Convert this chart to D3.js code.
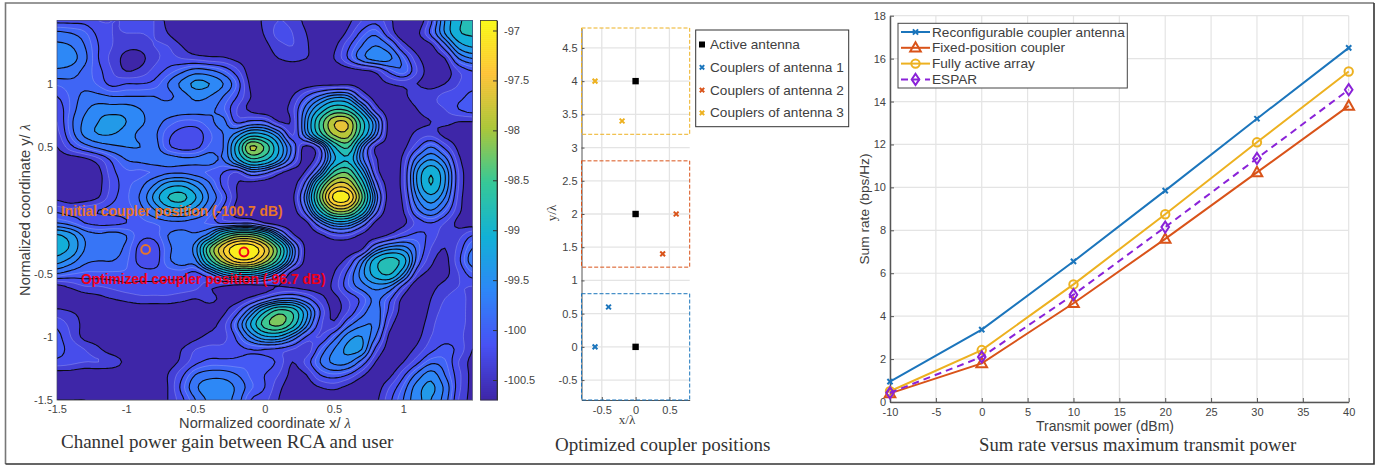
<!DOCTYPE html>
<html>
<head>
<meta charset="utf-8">
<script src="https://cdn.jsdelivr.net/npm/d3@7"></script>
<style>
  html, body { margin: 0; padding: 0; background: #fff; }
  text { font-family: "Liberation Sans", Arial, sans-serif; fill: #404040; }
  .cap { font-family: "Liberation Serif", serif; fill: #333; }
  .axis text { font-size: 11px; fill: #444; }
</style>
</head>
<body>
<div id="chart"></div>
<script>
// channel gain, in 0.1 dB above -101 dB
// rows go from y/lambda = 1.5 down to -1.5, columns from x/lambda = -1.5 to 1.5
const gainRows = [
  [8,8,8,7,7,7,7,7,5,4,4,4,4,4,4,6,7,6.5,5,4,4,5,7,8,6,4,4,8,15,20,21],
  [11.5,11,10,8,7,7,7,7,5.5,4,4,4,4,4,4.2,5.7,7.5,7,5.5,4,4,6,9,10.5,7,4,5,9,15,20,21],
  [13.5,13,11,8.5,7,6,6,7,7,5.5,4,4,4,4,4,5,6.5,7,5.8,4,5,8,11,13,11,6.5,4.5,5,10,16,18],
  [14.5,14,11.5,8.5,6.5,5,5,6.5,7.5,7,6.5,6,5.8,5,4.5,4.5,5.5,6,5.5,4.8,5.5,8.5,12,14,13.5,10,6,4.5,5.5,11,13],
  [12.5,12,10.5,9,7,5.5,6,7.5,9,10.5,12,11.5,10,7.5,4.5,4,4,4,4,4,4,4.5,5,6,9,10.5,7,4.5,4.5,7,8.5],
  [10,10.5,10.5,9.5,8,8.5,8.5,9,11,13.5,15.5,15,13,9.5,5,4,4,4,4.5,4.8,4.8,5,4.5,4.5,5.5,6,5.5,4.8,5.5,7,8],
  [8.5,10,11.5,11.5,11,11,11,11,10.5,12,13.5,13,11,8.5,5.5,4,4,5.5,8.5,11.5,14,13.5,7.5,4.5,4,5,6.5,6.5,7.5,8,9],
  [7.5,10,12.5,14,14,14,13,12,12,12,12,11.5,10,7,5,4,4.5,6.5,12,18,23,22,15,7,4,4,5.5,6.5,7,8.5,9.5],
  [7,10.5,13.5,15,15.8,15,13.5,12,10.5,9.5,9.5,10.5,11.5,8,9,8.8,5.6,6,14,24,32,32,22,13,4.5,4,5,5.5,6,5.5,5.5],
  [6.5,10,13.5,15,15,14,12.5,11.5,9,7.8,7.5,9.5,11,14,18.5,17.5,13,6.8,13,22,30,31,21,12,4.5,4.5,6,6.5,5,4.5,4.5],
  [5.5,8,10,11.5,12.5,13,13,12,9,7.8,8,10,11,19,30,26,17.5,10.2,4.8,9,20,24,13,5.5,4.5,5,8,11,8,5,4],
  [4.5,4.5,5,6.5,9,11,11.5,12,12,11.5,11.5,12,11,16.5,22.5,21,15.5,9,4.5,8,17,20,12,6,4,6,12,15,12,6,4],
  [4,4,4,5,8,9.5,9.5,9.9,10.6,10.7,10.2,9.5,8.5,7,10.5,9.4,6.3,4.5,6,13,24,26,17,7,4,6.5,15,20,15,7,4],
  [4,4,4,5,7.5,9.4,10.4,13,16.3,17,14.6,11.4,8,5.5,4.5,4,4,4.5,10,23,33,33,23,10,4.5,6.5,15,20.5,15,7,4],
  [5,4.2,4.5,5.5,8,9.5,11.2,15.5,20.5,21.6,17.7,12.7,9.5,5.5,4,4,4,5,12.6,27,39.5,39.5,27,12.6,4.5,6,13,16.5,13,6.5,4],
  [8,7.5,8,8.5,9,9.3,10.3,12.7,15.6,16.3,14,11,8,5,4,4,4,4.5,10,21,30,30,21,10,4,5.5,10.5,13,10,6,4],
  [11,10,8.5,8,8,8.5,9.3,9.8,10.4,10.5,10,9.5,8,8,8,5.5,4.2,4,5,10.8,15.5,15.5,10.8,5,4,5,7.5,8.5,7,5,4.5],
  [18,16,12.5,11.5,12,11,9,9,11,12,11.5,14.5,23,28,28,23,13.8,6.3,4.4,5,7,7,5,4.5,6,8,9,8,6,6.5,8.5],
  [19,17,13,12,12,10.5,8,7.5,10.5,12,14,26,35,41,41,35,25,12.7,4.8,4.2,4,4,5,11,14,14,10.5,7,5.5,7.5,11],
  [16,14,11.5,11,11,10,8,7.5,10.5,12,12.5,22,31,37,37,31,22,11.4,4.6,4,4.5,6.5,12,19,22,19,10,6,5,8,12],
  [11,10,9.5,9.5,9.5,9.5,9,9,9,9,8,10.7,15.7,18.7,18.7,15.7,10.3,4.5,4,4,5.5,9,14,19,21,15,7,5,5,7,9.5],
  [5,6,7,7,7.5,8,8,8,8,8,7.5,6,5.5,4.5,4.5,5,5.5,5,4.5,4.5,6,9.5,12,14,13,8,4,5,6,7,7],
  [4,4,4.5,5,5.5,6,6.5,6.5,6.5,6,5.5,6,5,4.7,6.2,8.5,10.9,11.3,9.2,6.3,5,7,9,11.5,9,5,4,5.5,7,7.5,6.5],
  [6,5.5,5,4.5,4,4,4,4,4,4,4,4.5,5.1,7.7,13,20,25,23,15.5,8.5,5,7,10,12,8,4.5,4,6,7.5,7.5,6.5],
  [8,6.5,5,4,4,4,4,4,4,4,4,4.8,6.4,10.7,17.7,25,27.5,22.5,14,7.5,6,10,12.5,12.5,6.5,4,4.5,6.5,8,7.5,6.5],
  [9,7,5,4.5,4,4,4,4,4,4,5,6,6.5,9,13.3,17,17,13,8.4,7,10,14,15,11,5,4,5,7,8,7.5,6],
  [9,8,7,5.8,4.5,4,4,4,4,5.5,7,7.5,7.5,8,8.5,8.5,8,7,6,9.5,13,15.5,15,8,4.5,4.5,6,8,9,8,5.5],
  [8,7.5,7,7,6.5,5,4,4,4.5,6,8,9,9,9,9.5,9.5,8,5.5,7.5,11,13.5,13.5,10,5.5,4,5.5,8,10.5,10,7,5],
  [4.5,4.5,4,4,4,4,4,4,5.5,8,11,12,12,11,9.5,8.5,7,5,5.5,8.5,9.5,8.5,6,4.2,5,8,11.5,14,11,7.5,5],
  [4,4,4,4,4,4,4,4,5.5,9,12.5,14.5,14.5,12.5,10,8.5,6,4.5,4.5,5.5,6,5,4,4.5,7,10,14,15.5,12.5,7.5,5],
  [5.5,5.5,5.5,5,5,5,5,4.5,5.5,8,11,13.5,14,12,8.5,7.5,5.5,4.3,4,4,4,4,4,5,8,11,14.5,15,12,7,5]
];
const blackLevels = [5.5,8.5,11,13,15,17.5,20.5,23.5,26.5,29.5,32.5,35.5,38.5];
const whiteLevels = [7,9.75];
const gainTicks = [-100.5,-100,-99.5,-99,-98.5,-98,-97.5,-97];
const fieldTicks = [-1.5,-1,-0.5,0,0.5,1];
const initialPos = [-0.86,-0.31];
const optimizedPos = [-0.15,-0.33];

// coupler panel
const activeAntenna = [[0,0],[0,2],[0,4]];
const couplers1 = [[-0.6,0],[-0.4,0.6]];
const couplers2 = [[0.6,2],[0.4,1.4]];
const couplers3 = [[-0.6,4],[-0.2,3.4]];
const regionBands = [[-0.8,0.8],[1.2,2.8],[3.2,4.8]];
const posXTicks = [-0.5,0,0.5];
const posYTicks = [-0.5,0,0.5,1,1.5,2,2.5,3,3.5,4,4.5];
const couplerLegend = ["Active antenna","Couplers of antenna 1","Couplers of antenna 2","Couplers of antenna 3"];

// sum rate panel
const powerDbm = [-10,0,10,20,30,40];
const rateRca = [0.95,3.37,6.55,9.85,13.2,16.5];
const rateFixed = [0.4,1.8,4.6,7.6,10.7,13.8];
const rateActive = [0.5,2.42,5.48,8.75,12.1,15.4];
const rateEspar = [0.43,2.1,5.0,8.15,11.35,14.55];
const rateNames = ["Reconfigurable coupler antenna","Fixed-position coupler","Fully active array","ESPAR"];
const powerTicks = [-10,-5,0,5,10,15,20,25,30,35,40];
const rateTicks = [0,2,4,6,8,10,12,14,16,18];

const BLUE = "#1b75bc", ORANGE = "#d95319", YELLOW = "#edb120", PURPLE = "#8a22d8";

const svg = d3.select("#chart").append("svg")
  .attr("width", 1387).attr("height", 466);

svg.append("rect").attr("width", 1387).attr("height", 466).attr("fill", "#fff");

// outer frame, top and left print lighter than bottom and right
const frame = svg.append("g").attr("fill", "none").attr("stroke-width", 1.6);
frame.append("path").attr("d", "M5.5,464V3H1374").attr("stroke", "#777");
frame.append("path").attr("d", "M1374,3V464H5.5").attr("stroke", "#333");

const parula = d3.scaleLinear()
  .domain([0, 1/7, 2/7, 3/7, 4/7, 5/7, 6/7, 1])
  .range(["#3e26a8","#4852f4","#2e87f7","#12b1d6","#37c897","#abc739","#fec338","#f9fb15"]);
const gainToT = d3.scaleLinear().domain([-100.7, -96.9]).range([0, 1]);
const nToDb = n => -101 + n / 10;
const tickText = d => String(d); // plain hyphen, as the figure prints it

/* ---------- left panel: contour map ---------- */
const fx = d3.scaleLinear().domain([-1.5, 1.5]).range([57, 472.5]);
const fy = d3.scaleLinear().domain([-1.5, 1.5]).range([400, 20.5]);

// refine the read grid so the contour lines come out round
const K = 4;
const rows = gainRows.length, cols = gainRows[0].length;
const fw = (cols - 1) * K + 1, fh = (rows - 1) * K + 1;
function cr(a, b, c, d, t) {
  return 0.5 * (2*b + (c-a)*t + (2*a-5*b+4*c-d)*t*t + (3*b-a-3*c+d)*t*t*t);
}
function at(r, c) {
  return gainRows[Math.max(0, Math.min(rows-1, r))][Math.max(0, Math.min(cols-1, c))];
}
function sample(gy, gx) {
  const r = Math.floor(gy), c = Math.floor(gx), ty = gy - r, tx = gx - c;
  const v = [-1,0,1,2].map(i => cr(at(r+i,c-1), at(r+i,c), at(r+i,c+1), at(r+i,c+2), tx));
  return cr(v[0], v[1], v[2], v[3], ty);
}
const fine = new Float64Array(fw * fh);
for (let j = 0; j < fh; j++) {
  for (let i = 0; i < fw; i++) fine[j*fw + i] = sample(j/K, i/K);
}

const gridPath = d3.geoPath(d3.geoTransform({
  point(x, y) {
    this.stream.point(fx(-1.5 + (x - 0.5) / K * 0.1), fy(1.5 - (y - 0.5) / K * 0.1));
  }
}));

svg.append("clipPath").attr("id", "fieldClip").append("rect")
  .attr("x", 57).attr("y", 20.5).attr("width", 415.5).attr("height", 379.5);

const field = svg.append("g").attr("clip-path", "url(#fieldClip)");
const fillLevels = d3.merge([blackLevels, whiteLevels]).sort(d3.ascending);
const bandColor = (i) => {
  const lo = fillLevels[i], hi = i + 1 < fillLevels.length ? fillLevels[i+1] : 41;
  return parula(gainToT(nToDb((lo + hi) / 2)));
};
field.append("rect").attr("x", 57).attr("y", 20.5).attr("width", 415.5).attr("height", 379.5)
  .attr("fill", "#3e26a8");
field.selectAll("path.band")
  .data(d3.contours().size([fw, fh]).thresholds(fillLevels)(fine))
  .join("path").attr("class", "band")
  .attr("d", gridPath)
  .attr("fill", (d, i) => bandColor(i));
field.selectAll("path.wline")
  .data(d3.contours().size([fw, fh]).thresholds(whiteLevels)(fine))
  .join("path").attr("class", "wline")
  .attr("d", gridPath)
  .attr("fill", "none").attr("stroke", "#fff").attr("stroke-opacity", 0.3).attr("stroke-width", 0.7);
field.selectAll("path.bline")
  .data(d3.contours().size([fw, fh]).thresholds(blackLevels)(fine))
  .join("path").attr("class", "bline")
  .attr("d", gridPath)
  .attr("fill", "none").attr("stroke", "#0a0a14").attr("stroke-width", 1.1);

svg.append("rect").attr("x", 57).attr("y", 20.5).attr("width", 415.5).attr("height", 379.5)
  .attr("fill", "none").attr("stroke", "#44446a").attr("stroke-width", 0.7);

function plainAxis(g, color) {
  g.attr("class", "axis");
  g.select(".domain").attr("stroke", color || "#555");
  g.selectAll(".tick line").attr("stroke", color || "#555");
}
svg.append("g").attr("transform", "translate(0,400)")
  .call(d3.axisBottom(fx).tickValues(fieldTicks).tickSize(0).tickPadding(5).tickFormat(tickText))
  .call(g => { plainAxis(g); g.select(".domain").attr("stroke", "#aaa"); });
svg.append("g").attr("transform", "translate(57,0)")
  .call(d3.axisLeft(fy).tickValues(fieldTicks).tickSize(0).tickPadding(4).tickFormat(tickText))
  .call(g => { plainAxis(g); g.select(".domain").remove(); });

function lambdaLabel(sel, before) {
  sel.append("tspan").text(before);
  sel.append("tspan").attr("font-family", "Liberation Serif").attr("font-style", "italic").text("\u03bb");
}
svg.append("text").attr("x", 265).attr("y", 428).attr("text-anchor", "middle")
  .attr("font-size", 14.6).call(lambdaLabel, "Normalized coordinate x/ ");
svg.append("text").attr("transform", "translate(30,210) rotate(-90)").attr("text-anchor", "middle")
  .attr("font-size", 14.6).call(lambdaLabel, "Normalized coordinate y/ ");

svg.append("text").attr("x", 61).attr("y", 215.5).attr("font-size", 13.8).attr("font-weight", "bold")
  .style("fill", "#e8752a").text("Initial coupler position (-100.7 dB)");
svg.append("text").attr("x", 81).attr("y", 284).attr("font-size", 13.8).attr("font-weight", "bold")
  .style("fill", "#f00018").text("Optimized coupler position (-96.7 dB)");
svg.append("circle").attr("cx", fx(initialPos[0])).attr("cy", fy(initialPos[1])).attr("r", 4.4)
  .attr("fill", "none").attr("stroke", "#e8752a").attr("stroke-width", 2);
svg.append("circle").attr("cx", fx(optimizedPos[0])).attr("cy", fy(optimizedPos[1])).attr("r", 4.4)
  .attr("fill", "none").attr("stroke", "#f00018").attr("stroke-width", 2);

// colorbar
const cby = d3.scaleLinear().domain([-100.7, -96.9]).range([400, 20.5]);
const cbSteps = d3.range(-100.7, -96.9, 0.02);
svg.append("g").selectAll("rect").data(cbSteps).join("rect")
  .attr("x", 480.5).attr("width", 16.5)
  .attr("y", d => cby(d + 0.02) - 0.3)
  .attr("height", d => cby(d) - cby(d + 0.02) + 0.6)
  .attr("fill", d => parula(gainToT(d)));
svg.append("rect").attr("x", 480.5).attr("y", 20.5).attr("width", 16.5).attr("height", 379.5)
  .attr("fill", "none").attr("stroke", "#333").attr("stroke-width", 0.8);
svg.append("g").attr("transform", "translate(497,0)")
  .call(d3.axisRight(cby).tickValues(gainTicks).tickSizeInner(-4).tickSizeOuter(0).tickPadding(7).tickFormat(tickText))
  .call(g => { plainAxis(g, "#333"); });

svg.append("text").attr("class", "cap").attr("x", 61).attr("y", 448).attr("font-size", 19)
  .text("Channel power gain between RCA and user");

/* ---------- middle panel: coupler positions ---------- */
const px = d3.scaleLinear().domain([-0.8, 0.8]).range([581.5, 689.7]);
const py = d3.scaleLinear().domain([-0.8, 4.8]).range([400, 28]);

const posGrid = svg.append("g").attr("stroke", "#e4e4e4").attr("stroke-width", 1.3);
posGrid.selectAll("line.gx").data(posXTicks).join("line").attr("class", "gx")
  .attr("x1", d => px(d)).attr("x2", d => px(d)).attr("y1", py(-0.8)).attr("y2", py(4.8));
posGrid.selectAll("line.gy").data(posYTicks).join("line").attr("class", "gy")
  .attr("x1", px(-0.8)).attr("x2", px(0.8)).attr("y1", d => py(d)).attr("y2", d => py(d));

svg.append("g").attr("transform", "translate(0,400)")
  .call(d3.axisBottom(px).tickValues(posXTicks).tickSizeInner(-3).tickSizeOuter(0).tickPadding(6).tickFormat(tickText))
  .call(g => plainAxis(g));
svg.append("g").attr("transform", "translate(581.5,0)")
  .call(d3.axisLeft(py).tickValues(posYTicks).tickSizeInner(-3).tickSizeOuter(0).tickPadding(4).tickFormat(tickText))
  .call(g => plainAxis(g));

const regionColors = [BLUE, ORANGE, YELLOW];
svg.append("g").selectAll("rect").data(regionBands).join("rect")
  .attr("x", px(-0.8)).attr("width", px(0.8) - px(-0.8))
  .attr("y", d => py(d[1])).attr("height", d => py(d[0]) - py(d[1]))
  .attr("fill", "none").attr("stroke", (d, i) => regionColors[i])
  .attr("stroke-width", 1).attr("stroke-dasharray", "4,2");

function crossMark(g, x, y, color, s) {
  g.append("path").attr("d", `M${x-s},${y-s}L${x+s},${y+s}M${x-s},${y+s}L${x+s},${y-s}`)
    .attr("stroke", color).attr("stroke-width", 2).attr("fill", "none");
}
const posMarks = svg.append("g");
posMarks.selectAll("rect").data(activeAntenna).join("rect")
  .attr("x", d => px(d[0]) - 3.2).attr("y", d => py(d[1]) - 3.2).attr("width", 6.4).attr("height", 6.4).attr("fill", "#000");
[[couplers1, BLUE], [couplers2, ORANGE], [couplers3, YELLOW]].forEach(s => {
  s[0].forEach(d => crossMark(posMarks, px(d[0]), py(d[1]), s[1], 2.4));
});

svg.append("text").attr("x", 627).attr("y", 424).attr("text-anchor", "middle")
  .attr("font-size", 13).style("font-family", "Liberation Serif").text("x/\u03bb");
svg.append("text").attr("transform", "translate(556,213) rotate(-90)").attr("text-anchor", "middle")
  .attr("font-size", 13).style("font-family", "Liberation Serif").text("y/\u03bb");

const posLegend = svg.append("g");
posLegend.append("rect").attr("x", 695.7).attr("y", 30).attr("width", 153).attr("height", 96.7)
  .attr("fill", "#fff").attr("stroke", "#333").attr("stroke-width", 1);
couplerLegend.forEach((name, i) => {
  const y = 44.5 + i * 22.8;
  posLegend.append("text").attr("x", 710).attr("y", y + 4.5).attr("font-size", 13.6).text(name);
  if (i == 0) posLegend.append("rect").attr("x", 699).attr("y", y - 3).attr("width", 6).attr("height", 6).attr("fill", "#000");
  else crossMark(posLegend, 702, y, regionColors[i-1], 2.2);
});

svg.append("text").attr("class", "cap").attr("x", 555).attr("y", 451).attr("font-size", 19)
  .text("Optimized coupler positions");

/* ---------- right panel: sum rate ---------- */
const rx = d3.scaleLinear().domain([-10, 40]).range([890, 1348.7]);
const ry = d3.scaleLinear().domain([0, 18]).range([402, 15.7]);

const rateGrid = svg.append("g").attr("stroke", "#e4e4e4").attr("stroke-width", 1.2);
rateGrid.selectAll("line.gx").data(powerTicks).join("line").attr("class", "gx")
  .attr("x1", d => rx(d)).attr("x2", d => rx(d)).attr("y1", ry(0)).attr("y2", ry(18));
rateGrid.selectAll("line.gy").data(rateTicks).join("line").attr("class", "gy")
  .attr("x1", rx(-10)).attr("x2", rx(40)).attr("y1", d => ry(d)).attr("y2", d => ry(d));

svg.append("g").attr("transform", "translate(0,402)")
  .call(d3.axisBottom(rx).tickValues(powerTicks).tickSizeInner(-4).tickSizeOuter(0).tickPadding(6).tickFormat(tickText))
  .call(g => { plainAxis(g); g.select(".domain").attr("stroke-width", 1.5); });
svg.append("g").attr("transform", "translate(890,0)")
  .call(d3.axisLeft(ry).tickValues(rateTicks).tickSizeInner(-4).tickSizeOuter(0).tickPadding(4).tickFormat(tickText))
  .call(g => { plainAxis(g); g.select(".domain").attr("stroke-width", 1.5); });

const rateLine = d3.line().x(d => rx(d[0])).y(d => ry(d[1]));
const series = [
  { values: rateRca, color: BLUE, mark: "x" },
  { values: rateFixed, color: ORANGE, mark: "tri" },
  { values: rateActive, color: YELLOW, mark: "circ" },
  { values: rateEspar, color: PURPLE, mark: "dia", dash: "7,5" }
];
function drawMark(g, kind, x, y, color) {
  if (kind == "x") { crossMark(g, x, y, color, 2.6); return; }
  let d;
  if (kind == "tri") d = `M${x},${y-5.5}L${x+5.3},${y+3.8}L${x-5.3},${y+3.8}Z`;
  if (kind == "dia") d = `M${x},${y-5.6}L${x+3.8},${y}L${x},${y+5.6}L${x-3.8},${y}Z`;
  if (kind == "circ") { g.append("circle").attr("cx", x).attr("cy", y).attr("r", 4.2).attr("fill", "none").attr("stroke", color).attr("stroke-width", 2); return; }
  g.append("path").attr("d", d).attr("fill", "none").attr("stroke", color).attr("stroke-width", 2);
}
const rateMarks = svg.append("g");
series.forEach(s => {
  const pts = powerDbm.map((p, i) => [p, s.values[i]]);
  rateMarks.append("path").attr("d", rateLine(pts)).attr("fill", "none")
    .attr("stroke", s.color).attr("stroke-width", 2).attr("stroke-dasharray", s.dash || null);
  pts.forEach(d => drawMark(rateMarks, s.mark, rx(d[0]), ry(d[1]), s.color));
});

svg.append("text").attr("x", 1105).attr("y", 431).attr("text-anchor", "middle").attr("font-size", 14)
  .text("Transmit power (dBm)");
svg.append("text").attr("transform", "translate(869,209) rotate(-90)").attr("text-anchor", "middle").attr("font-size", 13.7)
  .text("Sum rate (bps/Hz)");

const rateLegend = svg.append("g");
rateLegend.append("rect").attr("x", 898).attr("y", 23.3).attr("width", 229.3).attr("height", 64.7)
  .attr("fill", "#fff").attr("stroke", "#444").attr("stroke-width", 1);
rateNames.forEach((name, i) => {
  const y = 32 + i * 15.8;
  rateLegend.append("text").attr("x", 932).attr("y", y + 4.5).attr("font-size", 13.6).text(name);
  rateLegend.append("line").attr("x1", 901).attr("x2", 930).attr("y1", y).attr("y2", y)
    .attr("stroke", series[i].color).attr("stroke-width", 2).attr("stroke-dasharray", series[i].dash || null);
  drawMark(rateLegend, series[i].mark, 915.5, y, series[i].color);
});

svg.append("text").attr("class", "cap").attr("x", 979).attr("y", 451).attr("font-size", 18.7)
  .text("Sum rate versus maximum transmit power");
</script>
</body>
</html>
